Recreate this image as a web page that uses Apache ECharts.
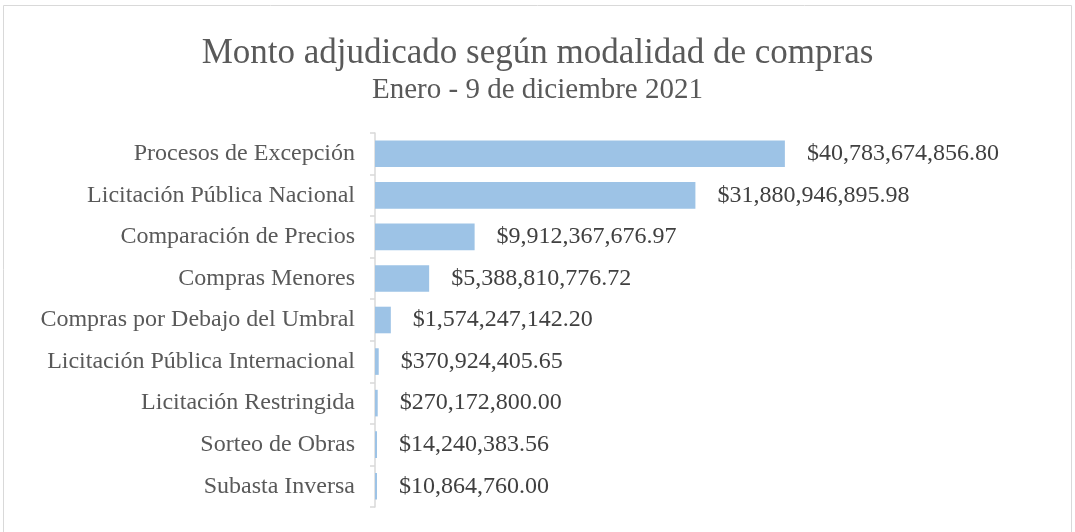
<!DOCTYPE html>
<html>
<head>
<meta charset="utf-8">
<script src="https://cdn.jsdelivr.net/npm/echarts@6/dist/echarts.min.js"></script>
<style>
  html, body { margin: 0; padding: 0; background: #fff; }
  #chart { width: 1075px; height: 532px; }
</style>
</head>
<body>
<div id="chart"></div>
<script>
// categories, top to bottom
const categories = [
  'Procesos de Excepción',
  'Licitación Pública Nacional',
  'Comparación de Precios',
  'Compras Menores',
  'Compras por Debajo del Umbral',
  'Licitación Pública Internacional',
  'Licitación Restringida',
  'Sorteo de Obras',
  'Subasta Inversa'
];

const montos = [
  40783674856.80,
  31880946895.98,
  9912367676.97,
  5388810776.72,
  1574247142.20,
  370924405.65,
  270172800.00,
  14240383.56,
  10864760.00
];

const fontFam = '"Liberation Serif", "Times New Roman", serif';

function fmtMoney(v) {
  return '$' + v.toLocaleString('en-US', { minimumFractionDigits: 2, maximumFractionDigits: 2 });
}

const chart = echarts.init(document.getElementById('chart'));

chart.setOption({
  animation: false,
  title: {
    text: 'Monto adjudicado según modalidad de compras',
    subtext: 'Enero - 9 de diciembre 2021',
    left: 'center',
    top: 31,
    itemGap: 5,
    textStyle: { fontFamily: fontFam, fontSize: 35, fontWeight: 'normal', color: '#595959' },
    subtextStyle: { fontFamily: fontFam, fontSize: 29, color: '#595959' }
  },
  graphic: [{
    type: 'rect',
    shape: { x: 3.5, y: 5.5, width: 1068, height: 540 },
    style: { fill: 'none', stroke: '#d9d9d9', lineWidth: 1 },
    silent: true
  }],
  grid: { left: 375, right: 97, top: 133, bottom: 25 },
  xAxis: {
    type: 'value',
    min: 0,
    max: 60000000000,
    show: false
  },
  yAxis: {
    type: 'category',
    inverse: true,
    data: categories,
    axisLine: { lineStyle: { color: '#d9d9d9', width: 1.5 } },
    axisTick: { show: true, length: 5, lineStyle: { color: '#d9d9d9', width: 1.5 } },
    axisLabel: { fontFamily: fontFam, fontSize: 24, color: '#595959', margin: 20, padding: [6, 0, 0, 0] }
  },
  series: [{
    type: 'bar',
    data: montos,
    barCategoryGap: '36%',
    barMinHeight: 2,
    itemStyle: { color: '#9dc3e6' },
    label: {
      show: true,
      position: 'right',
      distance: 22,
      padding: [6, 0, 0, 0],
      fontFamily: fontFam,
      fontSize: 24,
      color: '#404040',
      formatter: p => fmtMoney(p.value)
    }
  }]
});
</script>
</body>
</html>
